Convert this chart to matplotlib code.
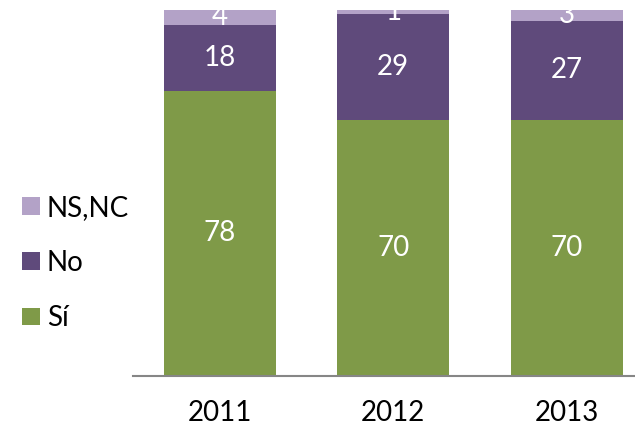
import matplotlib
matplotlib.use("Agg")
import matplotlib.pyplot as plt
import numpy as np

years = ["2011", "2012", "2013"]
si = [78, 70, 70]
no = [18, 29, 27]
ns_nc = [4, 1, 3]

col_si = "#7F9A48"
col_no = "#5F4A7B"
col_ns = "#B3A2C7"

plt.rcParams['font.family'] = ['Lato', 'DejaVu Sans']

fig = plt.figure(figsize=(6.35, 4.32), dpi=100)
ax = fig.add_axes([133 / 635, 1 - 376 / 432, 520.5 / 635, 366 / 432])

x = np.arange(len(years))
w = 0.645
b1 = ax.bar(x, si, w, color=col_si, label="Sí")
b2 = ax.bar(x, no, w, bottom=si, color=col_no, label="No")
b3 = ax.bar(x, ns_nc, w, bottom=np.add(si, no), color=col_ns, label="NS,NC")

# value labels, white, centered in each segment
for bars in (b1, b2, b3):
    ax.bar_label(bars, label_type="center", color="white", fontsize=20)

ax.set_xlim(-0.5, 2.5)
ax.set_ylim(0, 100)
ax.set_xticks(x)
ax.set_xticklabels(years, fontsize=20)
ax.tick_params(axis="x", length=0, pad=17)
ax.set_yticks([])
for s in ("top", "right", "left"):
    ax.spines[s].set_visible(False)
ax.spines["bottom"].set_color("#868686")
ax.spines["bottom"].set_linewidth(1.5)

fig.legend(handles=[b3, b2, b1], labels=["NS,NC", "No", "Sí"],
           loc="center left", bbox_to_anchor=(22 / 635, 1 - 263 / 432),
           frameon=False, fontsize=20, borderpad=0, borderaxespad=0,
           handlelength=0.64, handleheight=0.6, handletextpad=0.25,
           labelspacing=1.05)

fig.savefig("out.png", dpi=100)
